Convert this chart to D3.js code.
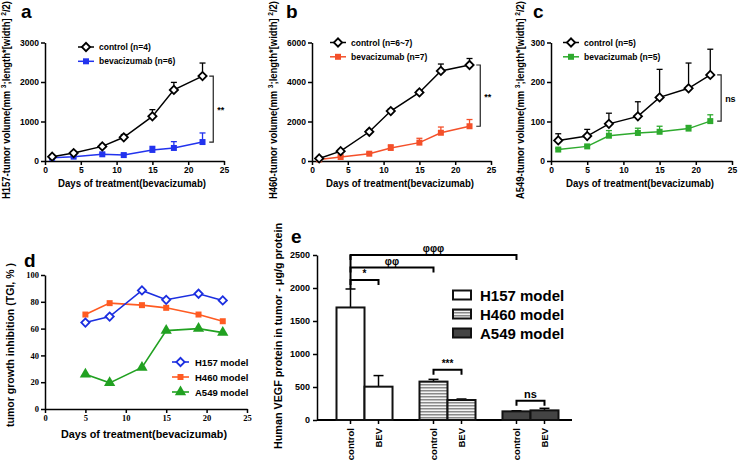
<!DOCTYPE html>
<html><head><meta charset="utf-8">
<script src="https://cdn.jsdelivr.net/npm/d3@7"></script>
<style>
body{margin:0;background:#fff;}
svg{display:block;font-family:"Liberation Sans",Arial,sans-serif;font-weight:bold;}
.axis path,.axis line{stroke:#000;stroke-width:1.5;}
</style></head><body>
<script>
// ---- data ----
const daysA = [1,4,8,11,15,18,22];
const h157Ctrl = [110,200,370,600,1130,1800,2150];
const h157CtrlErr = [40,40,50,70,170,190,330];
const h157Bev = [80,110,170,150,280,330,480];
const h157BevErr = [20,20,30,30,90,160,230];

const daysB = [1,4,8,11,15,18,22];
const h460Ctrl = [130,500,1480,2530,3470,4560,4860];
const h460CtrlErr = [80,80,100,100,100,350,330];
const h460Bev = [80,200,370,660,930,1430,1760];
const h460BevErr = [30,50,60,160,220,290,340];

const daysC = [1,5,8,12,15,19,22];
const a549Ctrl = [52,63,94,113,161,184,218];
const a549CtrlErr = [17,17,27,37,71,64,65];
const a549Bev = [29,37,64,71,74,82,101];
const a549BevErr = [3,3,13,12,14,8,16];

const tgiDays = [5,8,12,15,19,22];
const tgiH157 = [64.5,69,88.5,81.5,86,81];
const tgiH460 = [70.5,79,77.5,75.5,70.5,65.5];
const tgiA549 = [26,19.5,31,58.5,60,57];

const vegfModels = ["H157 model","H460 model","A549 model"];
const vegfGroups = ["control","BEV"];
const vegfMean = [[1705,505],[582,303],[131,146]];
const vegfErr = [[280,168],[34,15],[9,31]];

const dayTicks = [0,5,10,15,20,25];

const svg = d3.select("body").append("svg").attr("width",738).attr("height",465);
svg.append("rect").attr("width",738).attr("height",465).attr("fill","#fff");

const fmt = d3.format("d");
const diamond = d3.symbol().type(d3.symbolSquare).size(34);
const square = d3.symbol().type(d3.symbolSquare).size(36);
const tri = d3.symbol().type(d3.symbolTriangle).size(55);

function styleAxis(g, fs, family){
  g.attr("class","axis");
  g.selectAll("text").attr("fill","#000").style("font-size",fs+"px").style("font-weight","bold");
  if(family) g.selectAll("text").style("font-family",family);
}

function growth(cfg){
  const x = d3.scaleLinear().domain([0,25]).range(cfg.xr);
  const y = d3.scaleLinear().domain(cfg.yd).range([161,42.5]);
  const g = svg.append("g");
  g.append("g").attr("transform",`translate(0,161)`)
   .call(d3.axisBottom(x).tickValues(dayTicks).tickFormat(fmt).tickSize(4).tickSizeOuter(0).tickPadding(2))
   .call(a=>styleAxis(a,8.5));
  g.append("g").attr("transform",`translate(${cfg.xr[0]},0)`)
   .call(d3.axisLeft(y).tickValues(cfg.yt).tickFormat(fmt).tickSize(4).tickSizeOuter(0).tickPadding(2))
   .call(a=>styleAxis(a,8.5));
  const series = [
    {v:cfg.bev, e:cfg.bevErr, c:cfg.color, sym:square, fill:cfg.color, rot:0},
    {v:cfg.ctrl, e:cfg.ctrlErr, c:"#000", sym:diamond, fill:"#fff", rot:45}
  ];
  series.forEach(s=>{
    const pts = cfg.days.map((d,i)=>({d, v:s.v[i], e:s.e[i]}));
    const eg = g.append("g").attr("stroke",s.c).attr("stroke-width",1.3);
    eg.selectAll("line.v").data(pts).join("line")
      .attr("x1",p=>x(p.d)).attr("x2",p=>x(p.d)).attr("y1",p=>y(p.v)).attr("y2",p=>y(p.v+p.e));
    eg.selectAll("line.c").data(pts).join("line")
      .attr("x1",p=>x(p.d)-3).attr("x2",p=>x(p.d)+3).attr("y1",p=>y(p.v+p.e)).attr("y2",p=>y(p.v+p.e));
    g.append("path").datum(pts).attr("fill","none").attr("stroke",s.c).attr("stroke-width",1.5)
      .attr("d",d3.line().x(p=>x(p.d)).y(p=>y(p.v)));
    g.selectAll(null).data(pts).join("path")
      .attr("d",s.sym).attr("transform",p=>`translate(${x(p.d)},${y(p.v)}) rotate(${s.rot})`)
      .attr("fill",s.fill).attr("stroke",s.c).attr("stroke-width",s.rot?1.8:0);
  });
  const bx = x(23.5), y1 = y(cfg.ctrl[cfg.ctrl.length-1]), y2 = y(cfg.bev[cfg.bev.length-1]);
  g.append("path").attr("fill","none").attr("stroke","#222").attr("stroke-width",1.2)
    .attr("d",`M${bx-4},${y1}H${bx}V${y2}H${bx-4}`);
  g.append("text").attr("x",bx+4).attr("y",(y1+y2)/2+4).style("font-size","9px").text(cfg.sig);
  const leg = [{t:cfg.ctrlLab,c:"#000",sym:diamond,fill:"#fff",rot:45,sw:1.8},{t:cfg.bevLab,c:cfg.color,sym:square,fill:cfg.color,rot:0,sw:0}];
  leg.forEach((l,i)=>{
    const ly = cfg.legY + i*14.3;
    g.append("line").attr("x1",cfg.legX-8).attr("x2",cfg.legX+8).attr("y1",ly).attr("y2",ly).attr("stroke",l.c).attr("stroke-width",1.5);
    g.append("path").attr("d",l.sym).attr("transform",`translate(${cfg.legX},${ly}) rotate(${l.rot})`)
      .attr("fill",l.fill).attr("stroke",l.c).attr("stroke-width",l.sw);
    g.append("text").attr("x",cfg.legX+13).attr("y",ly+3).style("font-size","8.5px").text(l.t);
  });
  g.append("text").attr("x",cfg.xTitleX).attr("y",187).attr("text-anchor","middle")
    .attr("textLength",148).attr("lengthAdjust","spacingAndGlyphs").style("font-size","10.5px")
    .text("Days of treatment(bevacizumab)");
  const yt = g.append("text").attr("transform",`translate(${cfg.yTitleX},100) rotate(-90)`)
    .attr("text-anchor","middle").attr("textLength",198).attr("lengthAdjust","spacingAndGlyphs").style("font-size","10px");
  yt.append("tspan").text(cfg.yName+"-tumor volume(mm ");
  yt.append("tspan").attr("dy",-4).style("font-size","7px").text("3");
  yt.append("tspan").attr("dy",4).text(";length*[width] ");
  yt.append("tspan").attr("dy",-4).style("font-size","7px").text("2");
  yt.append("tspan").attr("dy",4).text("/2)");
  g.append("text").attr("x",cfg.letterX).attr("y",18).style("font-size","19px").text(cfg.letter);
}

growth({xr:[45,224], yd:[0,3000], yt:[0,1000,2000,3000], days:daysA, ctrl:h157Ctrl, ctrlErr:h157CtrlErr,
  bev:h157Bev, bevErr:h157BevErr, color:"#2233ee", sig:"**", ctrlLab:"control (n=4)", bevLab:"bevacizumab (n=6)",
  legX:86, legY:47, xTitleX:132, yTitleX:10, yName:"H157", letter:"a", letterX:21});
growth({xr:[312,491], yd:[0,6000], yt:[0,2000,4000,6000], days:daysB, ctrl:h460Ctrl, ctrlErr:h460CtrlErr,
  bev:h460Bev, bevErr:h460BevErr, color:"#f4502a", sig:"**", ctrlLab:"control (n=6~7)", bevLab:"bevacizumab (n=7)",
  legX:338, legY:42.5, xTitleX:400, yTitleX:277, yName:"H460", letter:"b", letterX:286});
growth({xr:[551,732], yd:[0,300], yt:[0,100,200,300], days:daysC, ctrl:a549Ctrl, ctrlErr:a549CtrlErr,
  bev:a549Bev, bevErr:a549BevErr, color:"#2eaa2e", sig:"ns", ctrlLab:"control (n=5)", bevLab:"bevacizumab (n=5)",
  legX:571, legY:42.5, xTitleX:640, yTitleX:524, yName:"A549", letter:"c", letterX:533});

// ---- panel d ----
(function(){
  const x = d3.scaleLinear().domain([0,25]).range([45,247]);
  const y = d3.scaleLinear().domain([0,100]).range([409,275]);
  const g = svg.append("g");
  const serif = '"Liberation Serif","Times New Roman",serif';
  g.append("g").attr("transform","translate(0,409)")
   .call(d3.axisBottom(x).tickValues(dayTicks).tickFormat(fmt).tickSize(4).tickSizeOuter(0).tickPadding(2))
   .call(a=>styleAxis(a,8.5,serif));
  g.append("g").attr("transform","translate(45,0)")
   .call(d3.axisLeft(y).tickValues([0,20,40,60,80,100]).tickFormat(fmt).tickSize(4).tickSizeOuter(0).tickPadding(2))
   .call(a=>styleAxis(a,8.5,serif));
  const series = [
    {v:tgiA549, c:"#21a121", sym:tri, fill:"#21a121", rot:0, sw:0, n:"A549 model"},
    {v:tgiH460, c:"#ff5b22", sym:square, fill:"#ff5b22", rot:0, sw:0, n:"H460 model"},
    {v:tgiH157, c:"#1c2fe0", sym:diamond, fill:"#fff", rot:45, sw:1.8, n:"H157 model"}
  ];
  series.forEach(s=>{
    const pts = tgiDays.map((d,i)=>({d,v:s.v[i]}));
    g.append("path").datum(pts).attr("fill","none").attr("stroke",s.c).attr("stroke-width",1.6)
      .attr("d",d3.line().x(p=>x(p.d)).y(p=>y(p.v)));
    g.selectAll(null).data(pts).join("path").attr("d",s.sym)
      .attr("transform",p=>`translate(${x(p.d)},${y(p.v)}) rotate(${s.rot})`)
      .attr("fill",s.fill).attr("stroke",s.c).attr("stroke-width",s.sw);
  });
  series.slice().reverse().forEach((s,i)=>{
    const ly = 362 + i*15;
    g.append("line").attr("x1",172).attr("x2",189).attr("y1",ly).attr("y2",ly).attr("stroke",s.c).attr("stroke-width",1.6);
    g.append("path").attr("d",s.sym).attr("transform",`translate(180.5,${ly}) rotate(${s.rot})`)
      .attr("fill",s.fill).attr("stroke",s.c).attr("stroke-width",s.sw);
    g.append("text").attr("x",195).attr("y",ly+3.5).style("font-size","9.5px").text(s.n);
  });
  g.append("text").attr("x",144).attr("y",438).attr("text-anchor","middle")
    .attr("textLength",166).attr("lengthAdjust","spacingAndGlyphs").style("font-size","11.5px")
    .text("Days of treatment(bevacizumab)");
  g.append("text").attr("transform","translate(14,345) rotate(-90)").attr("text-anchor","middle")
    .attr("textLength",164).attr("lengthAdjust","spacingAndGlyphs").style("font-size","11px")
    .text("tumor growth inhibition (TGI, % )");
  g.append("text").attr("x",24).attr("y",267).style("font-size","19px").text("d");
})();

// ---- panel e ----
(function(){
  const y = d3.scaleLinear().domain([0,2500]).range([420,255]);
  const xg = d3.scaleBand().domain(vegfModels).range([317,578]).paddingInner(0.325).paddingOuter(0.235);
  const xi = d3.scaleBand().domain(vegfGroups).range([0,xg.bandwidth()]);
  const g = svg.append("g");
  const defs = svg.append("defs");
  const pat = defs.append("pattern").attr("id","stripes").attr("patternUnits","userSpaceOnUse").attr("width",6).attr("height",3);
  pat.append("rect").attr("width",6).attr("height",3).attr("fill","#f4f4f4");
  pat.append("rect").attr("width",6).attr("height",1.5).attr("fill","#8a8a8a");
  const fills = ["#fff","url(#stripes)","#444"];

  g.append("g").attr("transform","translate(317,0)")
   .call(d3.axisLeft(y).tickValues([0,500,1000,1500,2000,2500]).tickFormat(fmt).tickSize(4).tickSizeOuter(0).tickPadding(3))
   .call(a=>styleAxis(a,9));
  g.append("line").attr("x1",317).attr("x2",572).attr("y1",420).attr("y2",420).attr("stroke","#000").attr("stroke-width",2);

  const bars = [];
  vegfModels.forEach((m,mi)=>vegfGroups.forEach((gr,gi)=>bars.push({m,mi,gr,gi,v:vegfMean[mi][gi],e:vegfErr[mi][gi],
    cx: xg(m)+xi(gr)+xi.bandwidth()/2, x0: xg(m)+xi(gr)})));
  g.selectAll("line.err").data(bars).join("line").attr("stroke","#000").attr("stroke-width",1.5)
    .attr("x1",b=>b.cx).attr("x2",b=>b.cx).attr("y1",b=>y(b.v)).attr("y2",b=>y(b.v+b.e));
  g.selectAll("line.cap").data(bars).join("line").attr("stroke","#000").attr("stroke-width",1.5)
    .attr("x1",b=>b.cx-5).attr("x2",b=>b.cx+5).attr("y1",b=>y(b.v+b.e)).attr("y2",b=>y(b.v+b.e));
  g.selectAll("rect.bar").data(bars).join("rect")
    .attr("x",b=>b.x0).attr("width",xi.bandwidth()).attr("y",b=>y(b.v)).attr("height",b=>420-y(b.v))
    .attr("fill",b=>fills[b.mi]).attr("stroke","#111").attr("stroke-width",2);
  g.selectAll("line.xt").data(bars).join("line").attr("stroke","#000").attr("stroke-width",1.5)
    .attr("x1",b=>b.cx).attr("x2",b=>b.cx).attr("y1",420).attr("y2",424);
  g.selectAll("text.xl").data(bars).join("text")
    .attr("transform",b=>`translate(${b.cx+3.5},428) rotate(-90)`).attr("text-anchor","end")
    .style("font-size","9.5px").text(b=>b.gr);
  const cxOf = (mi,gi)=>xg(vegfModels[mi])+xi(vegfGroups[gi])+xi.bandwidth()/2;
  const brackets = [
    {a:[0,0], b:[2,0], v:2500, t:"φφφ"},
    {a:[0,0], b:[1,0], v:2310, t:"φφ"},
    {a:[0,0], b:[0,1], v:2120, t:"*"},
    {a:[1,0], b:[1,1], v:760, t:"***"},
    {a:[2,0], b:[2,1], v:290, t:"ns"}
  ];
  brackets.forEach(br=>{
    const x1 = cxOf(...br.a), x2 = cxOf(...br.b), yy = y(br.v);
    g.append("path").attr("fill","none").attr("stroke","#000").attr("stroke-width",2)
      .attr("d",`M${x1},${yy+5}V${yy}H${x2}V${yy+5}`);
    g.append("text").attr("x",(x1+x2)/2).attr("y",yy-3).attr("text-anchor","middle")
      .style("font-size", br.t==="ns"?"11px":"10px").text(br.t);
  });
  g.append("line").attr("x1",cxOf(0,0)).attr("x2",cxOf(0,0)).attr("y1",y(2500)).attr("y2",y(vegfMean[0][0]+vegfErr[0][0]))
    .attr("stroke","#000").attr("stroke-width",2);
  vegfModels.forEach((m,i)=>{
    const ly = 295 + i*19;
    g.append("rect").attr("x",453).attr("y",ly-4.5).attr("width",18).attr("height",9)
      .attr("fill",fills[i]).attr("stroke","#111").attr("stroke-width",2);
    g.append("text").attr("x",480).attr("y",ly+5.5).style("font-size","15px").text(m);
  });
  g.append("text").attr("transform","translate(282,336) rotate(-90)").attr("text-anchor","middle")
    .attr("textLength",226).attr("lengthAdjust","spacingAndGlyphs").style("font-size","11px")
    .text("Human VEGF protein in tumor - μg/g protein");
  g.append("text").attr("x",291).attr("y",243).style("font-size","19px").text("e");
})();
</script>
</body></html>
